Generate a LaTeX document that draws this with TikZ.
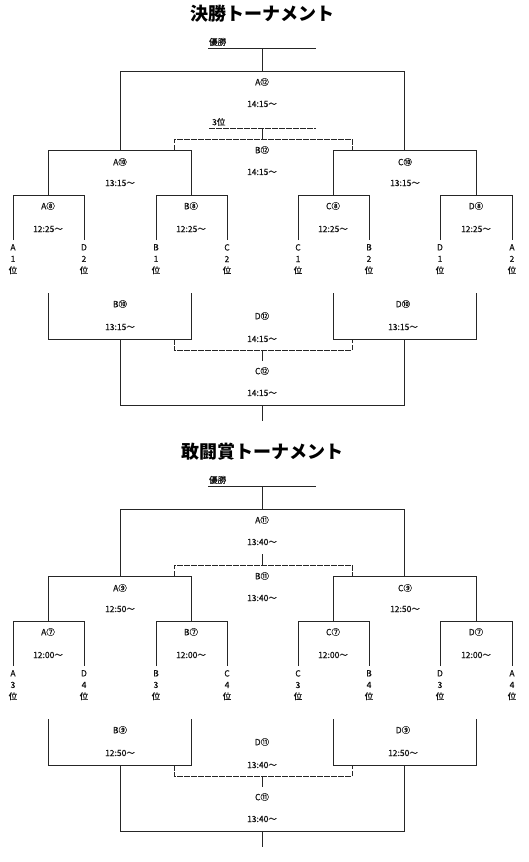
\documentclass[tikz,border=0pt]{standalone}
\usepackage{fontspec}
\setmainfont{Noto Sans CJK JP}
\usepackage{xcolor}
\usepackage{tikz}
\definecolor{ink}{HTML}{262626}
\definecolor{txt}{HTML}{141414}
\tikzset{
  ln/.style  ={draw=ink, line width=1pt},
  dl/.style  ={ln, dash pattern=on 5.5pt off 1.5pt},
  lbl/.style ={font=\fontsize{8.5}{10}\selectfont\addfontfeature{FakeBold=0.6}, text=txt, inner sep=0pt},
  lf/.style  ={lbl, align=center, anchor=north,
               font=\fontsize{8.5}{11.5}\selectfont\addfontfeature{FakeBold=0.6}},
  ttl/.style ={font=\fontsize{18}{20}\selectfont\bfseries, text=black, inner sep=0pt},
}

\begin{document}
\begin{tikzpicture}[x=1pt,y=-1pt]
  \useasboundingbox (0,0) rectangle (528,862);
  % the two brackets have the same shape; the second is shifted down,
  % its top part (winner line and final) a little less than the rest
  \foreach \h/\oy/\ot/\tname/\na/\nb/\nc/\ta/\tb/\tc/\ra/\rb in
     {f/0/0/決勝トーナメント/⑧/⑩/⑫/12:25/13:15/14:15/1/2,
      k/426/12/敢闘賞トーナメント/⑦/⑨/⑪/12:00/12:50/13:40/3/4}{
  \begin{scope}[yshift=-\oy pt]
    \begin{scope}[yshift=-\ot pt]
      \node[ttl] (title\h) at (262,14) {\tname};
      \node[lbl,anchor=south west] (win\h) at (209,46) {優勝};
      \coordinate (wl\h) at (208,48);
      \coordinate (wr\h) at (316,48);
      \coordinate (wm\h) at (262,48);
      \coordinate (fm\h) at (262,71);
      \coordinate (fl\h) at (120,71);
      \coordinate (fr\h) at (404,71);
      \node[lbl] (fA\h)  at (262,82)  {A\nc};
      \node[lbl] (fAt\h) at (262,104) {\tc～};
    \end{scope}
    % semi-finals
    \coordinate (sAl\h) at (48,150);  \coordinate (sAm\h) at (120,150); \coordinate (sAr\h) at (191,150);
    \coordinate (sCl\h) at (333,150); \coordinate (sCm\h) at (404,150); \coordinate (sCr\h) at (476,150);
    \node[lbl] (sA\h)  at (120,162) {A\nb};
    \node[lbl] (sAt\h) at (120,183) {\tb～};
    \node[lbl] (sC\h)  at (405,162) {C\nb};
    \node[lbl] (sCt\h) at (405,183) {\tb～};
    \draw[ln] (wl\h) -- (wr\h);
    \draw[ln] (wm\h) -- (fm\h);
    \draw[ln] (sAm\h) -- (fl\h) -- (fr\h) -- (sCm\h);
    % third place (upper, dashed)
    \coordinate (tu\h) at (262,128);  \coordinate (tm\h) at (262,139);
    \coordinate (tl\h) at (174,139);  \coordinate (tr\h) at (352,139);
    \coordinate (tla\h) at (174,150); \coordinate (tra\h) at (352,150);
    \node[lbl] (tB\h)  at (262,150) {B\nc};
    \node[lbl] (tBt\h) at (262,172) {\tc～};
    \draw[ln] (tu\h) -- (tm\h);
    \draw[dl] (tla\h) -- (tl\h) -- (tr\h) -- (tra\h);
    % quarter-finals and entries
    \foreach \q/\xl/\xm/\xr/\pl/\pr in {A/13/48/84/A/D, B/156/191/227/B/C,
                                         C/298/333/369/C/B, D/440/476/512/D/A}{
      \coordinate (q\q l\h) at (\xl,195);
      \coordinate (q\q m\h) at (\xm,195);
      \coordinate (q\q r\h) at (\xr,195);
      \coordinate (e\q l\h) at (\xl,240);
      \coordinate (e\q r\h) at (\xr,240);
      \node[lbl] (q\q\h)  at (\xm,206) {\q\na};
      \node[lbl] (q\q t\h) at (\xm,229) {\ta～};
      \node[lf] (n\q l\h) at (\xl,244) {\pl\\\ra\\位};
      \node[lf] (n\q r\h) at (\xr,244) {\pr\\\rb\\位};
      \draw[ln] (e\q l\h) -- (q\q l\h) -- (q\q r\h) -- (e\q r\h);
    }
    \draw[ln] (qAm\h) -- (sAl\h) -- (sAr\h) -- (qBm\h);
    \draw[ln] (qCm\h) -- (sCl\h) -- (sCr\h) -- (qDm\h);
    % losers' side
    \coordinate (bBtl\h) at (48,293);  \coordinate (bBl\h) at (48,339);
    \coordinate (bBtr\h) at (191,293); \coordinate (bBr\h) at (191,339);
    \coordinate (bDtl\h) at (333,293); \coordinate (bDl\h) at (333,339);
    \coordinate (bDtr\h) at (476,293); \coordinate (bDr\h) at (476,339);
    \coordinate (bBm\h) at (120,339);  \coordinate (bDm\h) at (404,339);
    \node[lbl] (bB\h)  at (120,304) {B\nb};
    \node[lbl] (bBt\h) at (120,327) {\tb～};
    \node[lbl] (bD\h)  at (403,304) {D\nb};
    \node[lbl] (bDt\h) at (403,327) {\tb～};
    \draw[ln] (bBtl\h) -- (bBl\h) -- (bBr\h) -- (bBtr\h);
    \draw[ln] (bDtl\h) -- (bDl\h) -- (bDr\h) -- (bDtr\h);
    % lower dashed bracket and last final
    \coordinate (ula\h) at (174,339); \coordinate (ura\h) at (352,339);
    \coordinate (ul\h) at (174,350);  \coordinate (ur\h) at (352,350);
    \coordinate (um\h) at (262,350);  \coordinate (ud\h) at (262,361);
    \node[lbl] (uD\h)  at (262,316) {D\nc};
    \node[lbl] (uDt\h) at (262,339) {\tc～};
    \draw[dl] (ula\h) -- (ul\h) -- (ur\h) -- (ura\h);
    \draw[ln] (um\h) -- (ud\h);
    \coordinate (cl\h) at (120,405); \coordinate (cr\h) at (404,405);
    \coordinate (cm\h) at (262,405); \coordinate (ce\h) at (262,421);
    \node[lbl] (cC\h)  at (262,371) {C\nc};
    \node[lbl] (cCt\h) at (262,393) {\tc～};
    \draw[ln] (bBm\h) -- (cl\h) -- (cr\h) -- (bDm\h);
    \draw[ln] (cm\h) -- (ce\h);
  \end{scope}
  }
  % only the first bracket plays for third place
  \coordinate (thl) at (209,128);
  \coordinate (thr) at (316,128);
  \node[lbl,anchor=south west] (third) at (212,126) {3位};
  \draw[dl] (thl) -- (thr);
\end{tikzpicture}
\end{document}
